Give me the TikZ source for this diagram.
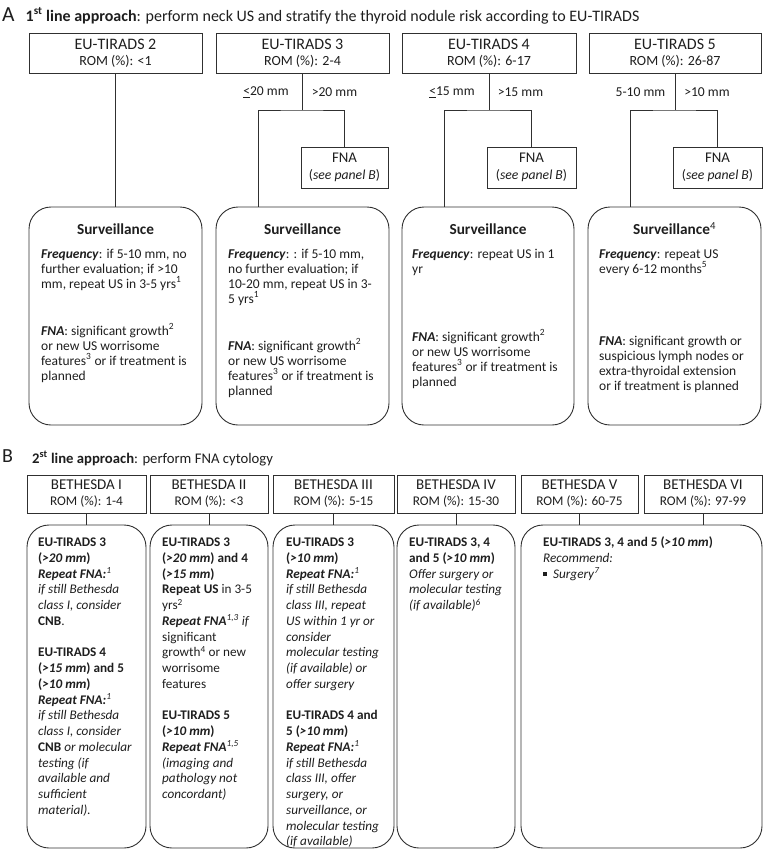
\documentclass[tikz,border=0pt]{standalone}
\usepackage{fontspec}
\setmainfont{Carlito}
\definecolor{linec}{HTML}{303030}
\definecolor{txtc}{HTML}{1E1E1E}
\newcommand{\lns}[1]{\vtop{\lineskiplimit=-100pt\relax\lineskip=0pt\relax\let\\\cr\halign{##\hfil\cr#1\crcr}}}
\newcommand{\bi}[1]{\textbf{\textit{#1}}}
\newcommand{\sps}[1]{\textsuperscript{#1}}
\newcommand{\isp}[1]{\textsuperscript{\textit{#1}}}
\newcommand{\sqbul}{\raise2.2pt\hbox{\vrule width 4pt height 4pt depth 0pt}}
\newcommand{\hA}[1]{{\fontsize{16}{17}\selectfont #1}}
\newcommand{\hB}[1]{{\fontsize{15}{16}\selectfont #1}}
\newcommand{\hF}[1]{{\fontsize{14.8}{17}\selectfont #1}}
\begin{document}
\begin{tikzpicture}[x=1pt,y=-1pt,
  txtc,
  frame/.style={draw=linec, line width=0.9pt, inner sep=0pt},
  sqA/.style={frame, rectangle, align=center, font=\fontsize{14}{16}\selectfont},
  sqB/.style={frame, rectangle, align=center, font=\fontsize{13.3}{16}\selectfont},
  fnabox/.style={frame, rectangle, align=center, font=\fontsize{13.7}{17}\selectfont},
  rbox/.style={frame, rectangle, rounded corners=22pt},
  conn/.style={draw=linec, line width=0.9pt},
  atxt/.style={anchor=base west, inner sep=0pt, font=\fontsize{13.5}{15}\selectfont},
  btxt/.style={anchor=base west, inner sep=0pt, font=\fontsize{13.2}{15.75}\selectfont},
  survt/.style={anchor=base, inner sep=0pt, font=\fontsize{15.3}{18}\selectfont\bfseries},
  brl/.style={inner sep=0pt, font=\fontsize{13.6}{16}\selectfont},
  panlA/.style={anchor=base west, inner sep=0pt, font=\fontsize{21.5}{24}\selectfont},
  panlB/.style={anchor=base west, inner sep=0pt, font=\fontsize{20}{24}\selectfont},
  ttlA/.style={anchor=base west, inner sep=0pt, font=\fontsize{16}{18}\selectfont},
  ttlB/.style={anchor=base west, inner sep=0pt, font=\fontsize{14.7}{17}\selectfont}]
\useasboundingbox (0,0) rectangle (763,854);

% ---------------- Panel A ----------------
\node[panlA] (pA) at (2,21.5) {A};
\node[ttlA] (tA) at (25.5,21) {\textbf{1\sps{st} line approach}: perform neck US and stratify the thyroid nodule risk according to EU-TIRADS};

\node[sqA, minimum width=173, minimum height=40] (a1) at (115.5,53) {\hA{EU-TIRADS 2}\\ROM (\%): <1};
\node[sqA, minimum width=173, minimum height=40] (a2) at (302.5,53) {\hA{EU-TIRADS 3}\\ROM (\%): 2-4};
\node[sqA, minimum width=174, minimum height=40] (a3) at (489,53) {\hA{EU-TIRADS 4}\\ROM (\%): 6-17};
\node[sqA, minimum width=172, minimum height=40] (a4) at (675,53) {\hA{EU-TIRADS 5}\\ROM (\%): 26-87};

\node[fnabox, minimum width=87, minimum height=41] (f2) at (344.5,167.5) {\hF{FNA}\\(\textit{see panel B})};
\node[fnabox, minimum width=89, minimum height=41] (f3) at (531.5,167.5) {\hF{FNA}\\(\textit{see panel B})};
\node[fnabox, minimum width=89, minimum height=41] (f4) at (717.5,167.5) {\hF{FNA}\\(\textit{see panel B})};

\node[rbox, minimum width=173, minimum height=218] (s1) at (115.5,316) {};
\node[rbox, minimum width=173, minimum height=218] (s2) at (302.5,316) {};
\node[rbox, minimum width=172, minimum height=218] (s3) at (488,316) {};
\node[rbox, minimum width=173, minimum height=218] (s4) at (674.5,316) {};

% branch labels
\node[brl] (l2a) at (266,92) {\underline{<}20 mm};
\node[brl] (l2b) at (334.5,92) {>20 mm};
\node[brl] (l3a) at (452,92) {\underline{<}15 mm};
\node[brl] (l3b) at (520.5,92) {>15 mm};
\node[brl] (l4a) at (640.5,92) {5-10 mm};
\node[brl] (l4b) at (707,92) {>10 mm};

% connectors A
\draw[conn] (a1.south) -- (s1.north);
\coordinate (j2) at (a2.south |- 0,110);
\coordinate (j3) at (a3.south |- 0,110);
\coordinate (j4) at (a4.south |- 0,110);
\draw[conn] (a2.south) -- (j2);
\draw[conn] (a3.south) -- (j3);
\draw[conn] (a4.south) -- (j4);
\draw[conn] ([xshift=43pt]s2.north west) |- (j2) -| (f2.north);
\draw[conn] ([xshift=43pt]s3.north west) |- (j3) -| (f3.north);
\draw[conn] ([xshift=43pt]s4.north west) |- (j4) -| (f4.north);

% surveillance texts
\node[survt] (sv1) at (s1.north |- 0,234.5) {Surveillance};
\node[survt] (sv2) at (s2.north |- 0,234.5) {Surveillance};
\node[survt] (sv3) at (s3.north |- 0,234.5) {Surveillance};
\node[survt] (sv4) at (s4.north |- 0,234.5) {Surveillance\sps{\normalfont 4}};

\node[atxt] (q1) at (41,258) {\lns{\bi{Frequency}: if 5-10 mm, no\\further evaluation; if >10\\mm, repeat US in 3-5 yrs\sps{1}}};
\node[atxt] (n1) at (41,335) {\lns{\bi{FNA}: significant growth\sps{2}\\or new US worrisome\\features\sps{3} or if treatment is\\planned}};

\node[atxt] (q2) at (228,258) {\lns{\bi{Frequency}: : if 5-10 mm,\\no further evaluation; if\\10-20 mm, repeat US in 3-\\5 yrs\sps{1}}};
\node[atxt] (n2) at (228,350) {\lns{\bi{FNA}: significant growth\sps{2}\\or new US worrisome\\features\sps{3} or if treatment is\\planned}};

\node[atxt] (q3) at (412,258) {\lns{\bi{Frequency}: repeat US in 1\\yr}};
\node[atxt] (n3) at (412,341) {\lns{\bi{FNA}: significant growth\sps{2}\\or new US worrisome\\features\sps{3} or if treatment is\\planned}};

\node[atxt] (q4) at (599,258) {\lns{\bi{Frequency}: repeat US\\every 6-12 months\sps{5}}};
\node[atxt] (n4) at (599,345) {\lns{\bi{FNA}: significant growth or\\suspicious lymph nodes or\\extra-thyroidal extension\\or if treatment is planned}};

% ---------------- Panel B ----------------
\node[panlB] (pB) at (2,462.5) {B};
\node[ttlB] (tB) at (32,463) {\textbf{2\sps{st} line approach}: perform FNA cytology};

\node[sqB, minimum width=119, minimum height=38] (b1) at (86.5,494) {\hB{BETHESDA I}\\ROM (\%): 1-4};
\node[sqB, minimum width=118, minimum height=38] (b2) at (209,494) {\hB{BETHESDA II}\\ROM (\%): <3};
\node[sqB, minimum width=121, minimum height=38] (b3) at (333.5,494) {\hB{BETHESDA III}\\ROM (\%): 5-15};
\node[sqB, minimum width=118, minimum height=38] (b4) at (456,494) {\hB{BETHESDA IV}\\ROM (\%): 15-30};
\node[sqB, minimum width=117, minimum height=38] (b5) at (579.5,494) {\hB{BETHESDA V}\\ROM (\%): 60-75};
\node[sqB, minimum width=118, minimum height=38] (b6) at (703,494) {\hB{BETHESDA VI}\\ROM (\%): 97-99};

\node[rbox, minimum width=119, minimum height=323] (c1) at (86.5,686.5) {};
\node[rbox, minimum width=118, minimum height=323] (c2) at (209,686.5) {};
\node[rbox, minimum width=121, minimum height=323] (c3) at (333.5,686.5) {};
\node[rbox, minimum width=118, minimum height=323] (c4) at (456,686.5) {};
\node[rbox, minimum width=241, minimum height=323] (c5) at (641.5,686.5) {};

\draw[conn] (b1.south) -- (c1.north);
\draw[conn] (b2.south) -- (c2.north);
\draw[conn] (b3.south) -- (c3.north);
\draw[conn] (b4.south) -- (c4.north);
\draw[conn] (b5.south) -- (b5.south |- c5.north);
\draw[conn] (b6.south) -- (b6.south |- c5.north);

\node[btxt] (d1) at (38,546.5) {\lns{%
\textbf{EU-TIRADS 3}\\
\textbf{(\textit{>20 mm})}\\
\bi{Repeat FNA:}\isp{1}\\
\textit{if still Bethesda}\\
\textit{class I, consider}\\
\textbf{CNB}.\\
\\
\textbf{EU-TIRADS 4}\\
\textbf{(\textit{>15 mm}) and 5}\\
\textbf{(\textit{>10 mm})}\\
\bi{Repeat FNA:}\isp{1}\\
\textit{if still Bethesda}\\
\textit{class I, consider}\\
\textbf{CNB} \textit{or molecular}\\
\textit{testing (if}\\
\textit{available and}\\
\textit{sufficient}\\
\textit{material).}}};

\node[btxt] (d2) at (162,546.5) {\lns{%
\textbf{EU-TIRADS 3}\\
\textbf{(\textit{>20 mm}) and 4}\\
\textbf{(\textit{>15 mm})}\\
\textbf{Repeat US} in 3-5\\
yrs\sps{2}\\
\bi{Repeat FNA}\isp{1,3} \textit{if}\\
significant\\
growth\sps{4} or new\\
worrisome\\
features\\
\\
\textbf{EU-TIRADS 5}\\
\textbf{(\textit{>10 mm})}\\
\bi{Repeat FNA}\isp{1,5}\\
\textit{(imaging and}\\
\textit{pathology not}\\
\textit{concordant)}}};

\node[btxt] (d3) at (286,546.5) {\lns{%
\textbf{EU-TIRADS 3}\\
\textbf{(\textit{>10 mm})}\\
\bi{Repeat FNA:}\isp{1}\\
\textit{if still Bethesda}\\
\textit{class III, repeat}\\
\textit{US within 1 yr or}\\
\textit{consider}\\
\textit{molecular testing}\\
\textit{(if available) or}\\
\textit{offer surgery}\\
\\
\textbf{EU-TIRADS 4 and}\\
\textbf{5 (\textit{>10 mm})}\\
\bi{Repeat FNA:}\isp{1}\\
\textit{if still Bethesda}\\
\textit{class III, offer}\\
\textit{surgery, or}\\
\textit{surveillance, or}\\
\textit{molecular testing}\\
\textit{(if available)}}};

\node[btxt] (d4) at (409,546.5) {\lns{%
\textbf{EU-TIRADS 3, 4}\\
\textbf{and 5 (\textit{>10 mm})}\\
\textit{Offer surgery or}\\
\textit{molecular testing}\\
\textit{(if available)}\isp{6}}};

\node[btxt] (d5) at (543,546.5) {\lns{%
\textbf{EU-TIRADS 3, 4 and 5 (\textit{>10 mm})}\\
\textit{Recommend:}\\
{\sqbul\hskip 6pt\textit{Surgery}\isp{7}}}};
\end{tikzpicture}
\end{document}
